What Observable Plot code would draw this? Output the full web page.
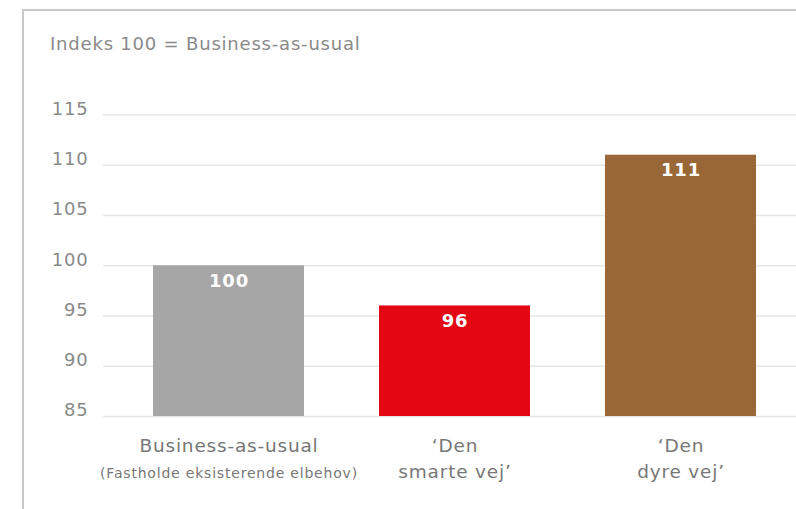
<!DOCTYPE html>
<html>
<head>
<meta charset="utf-8">
<script src="https://cdn.jsdelivr.net/npm/d3@7"></script>
<script src="https://cdn.jsdelivr.net/npm/@observablehq/plot@0.6"></script>
<style>
  html, body { margin: 0; padding: 0; background: #fff; overflow: hidden; }
  #wrap { position: relative; width: 796px; height: 509px; }
  #frame { position: absolute; left: 22px; top: 9px; width: 800px; height: 520px;
           border-left: 2px solid #c8c8c8; border-top: 2px solid #c8c8c8; box-sizing: border-box; }
  #sub { position: absolute; left: 50px; top: 35px; font-family: "DejaVu Sans", sans-serif;
         font-size: 18px; line-height: 18px; letter-spacing: 0.8px; color: #8a8a8a; white-space: nowrap; }
  #chart { position: absolute; left: 0; top: 0; }
  #chart text { letter-spacing: 0.8px; }
</style>
</head>
<body>
<div id="wrap">
  <div id="frame"></div>
  <div id="sub">Indeks 100 = Business-as-usual</div>
  <div id="chart"></div>
</div>
<script>
const categories = ["Business-as-usual", "\u2018Den smarte vej\u2019", "\u2018Den dyre vej\u2019"];
const values = [100, 96, 111];
const labels = ["Business-as-usual", "\u2018Den\nsmarte vej\u2019", "\u2018Den\ndyre vej\u2019"];
const sublabels = ["(Fastholde eksisterende elbehov)", "", ""];
const colors = ["#a6a6a6", "#e30613", "#9a6837"];
const yTicks = [85, 90, 95, 100, 105, 110, 115];

const data = categories.map((c, i) => ({cat: c, value: values[i], label: labels[i], sub: sublabels[i], color: colors[i]}));

const font = "DejaVu Sans, sans-serif";
const plot = Plot.plot({
  width: 796,
  height: 509,
  marginLeft: 103,
  marginRight: 0,
  marginTop: 114.5,
  marginBottom: 93,
  style: {fontFamily: font, background: "transparent"},
  x: {domain: categories, range: [103, 806.4], paddingInner: 0.333, paddingOuter: 0.221, axis: null},
  y: {domain: [85, 115], axis: null},
  marks: [
    Plot.ruleY(yTicks, {stroke: "#e6e6e6", strokeWidth: 1.5}),
    Plot.text(yTicks, {y: d => d, frameAnchor: "left", dx: -15, dy: -6, textAnchor: "end", text: d => String(d), fill: "#8a8a8a", fontSize: 18}),
    Plot.barY(data, {x: "cat", y1: 85, y2: "value", fill: "color"}),
    Plot.text(data, {x: "cat", y: "value", dy: 15, text: d => String(d.value), fill: "white", fontWeight: "bold", fontSize: 18}),
    Plot.text(data, {x: "cat", y: 85, dy: 17, lineAnchor: "top", lineHeight: 1.42, text: "label", fill: "#777777", fontSize: 18.5}),
    Plot.text(data, {x: "cat", y: 85, dy: 52, lineAnchor: "top", text: "sub", fill: "#777777", fontSize: 14})
  ]
});
document.getElementById("chart").appendChild(plot);
</script>
</body>
</html>
